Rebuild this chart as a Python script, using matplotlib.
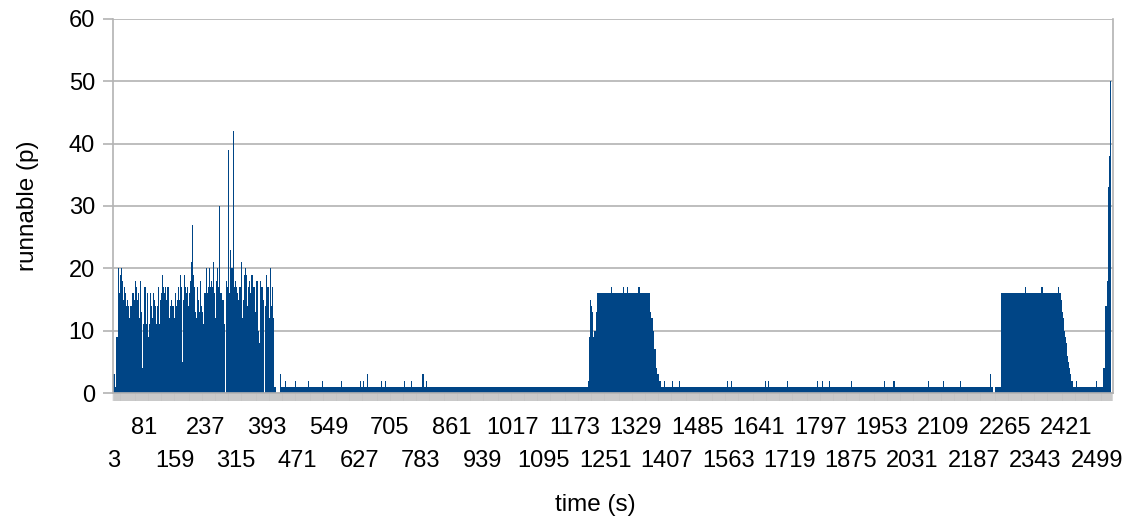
import numpy as np
import matplotlib
matplotlib.use("Agg")
import matplotlib.pyplot as plt

# runnable processes during the busy start (3 s .. 416 s), evenly spread
burst = [3, 3, 1, 9, 9, 20, 16, 19, 20, 18, 15, 17, 16, 14, 15, 14, 12, 14, 14, 16,
         16, 15, 18, 17, 15, 16, 12, 18, 13, 4, 11, 17, 17, 11, 16, 9, 11, 16, 14, 12,
         16, 15, 14, 11, 14, 17, 11, 15, 16, 19, 17, 16, 17, 15, 17,
         17, 12, 14, 15, 14, 14, 12, 16, 14, 15, 17, 15, 19, 17, 5, 15, 19, 17, 16, 17,
         14, 16, 18, 21, 27, 19, 17, 13, 12, 17, 15, 13, 18, 14, 13, 11, 16, 16, 20, 16,
         17, 20, 17, 18, 17, 21, 16, 12, 18, 20, 17, 30, 16, 16, 15, 15,
         11, 0, 18, 17, 39, 16, 23, 20, 20, 42, 17, 18, 17, 16, 15, 17, 17, 21, 12, 15,
         19, 20, 19, 14, 17, 18, 16, 19, 19, 17, 17, 13, 18, 18, 10, 8, 18, 17, 17, 15,
         0, 14, 19, 17, 17, 12, 20, 14, 17, 12, 1, 1]
burst_span = (2.5, 416.5)

# constant stretches: (from s, to s, runnable)
levels = [(416.5, 427, 0), (427, 1211, 1),
          (1233, 1365, 16),
          (1393, 2235, 1), (2235, 2240, 0), (2240, 2256, 1),
          (2256, 2408, 16), (2290, 2293, 15),
          (2438, 2514, 1)]

# ramps around the two plateaus and the final climb: (from s, to s, values)
ramps = [(1211, 1233, [9, 15, 14, 13, 9, 10, 10, 13, 16]),
         (1365, 1393, [13, 12, 12, 10, 7, 7, 4, 3, 3, 2, 2]),
         (2408, 2438, [15, 13, 12, 10, 9, 8, 6, 5, 4, 3, 2, 2]),
         (2514, 2535, [4, 4, 14, 14, 18, 33, 38, 50])]

# single short peaks: (time s, runnable)
peaks = [(428, 3), (441, 2), (465, 2), (498, 2), (533, 2), (581, 2), (630, 2),
         (637, 2), (647, 3), (683, 2), (693, 2), (741, 2), (759, 2), (789, 3),
         (797, 2), (1209, 2), (1268, 17), (1297, 17), (1309, 17), (1337, 17),
         (1402, 2), (1422, 2), (1441, 2), (1561, 2), (1571, 2), (1657, 2),
         (1665, 2), (1713, 2), (1789, 2), (1802, 2), (1820, 2), (1875, 2),
         (1959, 2), (1984, 2), (2071, 2), (2109, 2), (2152, 2), (2228, 3),
         (2318, 17), (2358, 17), (2362, 17), (2401, 17), (2448, 2), (2499, 2)]

t_first, t_last = 3, 2538
label_step = 78

blue = "#004586"
grey = "#b3b3b3"
plt.rcParams["font.family"] = ["Liberation Sans", "DejaVu Sans"]

fig = plt.figure(figsize=(11.28, 5.2), dpi=100)
ax = fig.add_axes([0.1002, 0.2442, 0.8861, 0.7193])

# no antialiasing: neighbouring bars butt together without light seams
bar_kw = dict(color=blue, align="edge", linewidth=0, antialiased=False)

edges = np.linspace(burst_span[0], burst_span[1], len(burst) + 1)
ax.bar(edges[:-1], burst, width=np.diff(edges), **bar_kw)

for a, b, v in levels:
    ax.bar(a, v, width=b - a, **bar_kw)

for a, b, vals in ramps:
    e = np.linspace(a, b, len(vals) + 1)
    ax.bar(e[:-1], vals, width=np.diff(e), **bar_kw)

pt, pv = zip(*peaks)
ax.bar(pt, pv, width=2.6, color=blue, linewidth=0, antialiased=False)

ax.set_xlim(t_first - 0.5, t_last + 0.5)
ax.set_ylim(0, 60)
ax.set_yticks(np.arange(0, 61, 10))
ax.yaxis.grid(True, color=grey, linewidth=1.2)
ax.set_axisbelow(True)

# labels alternate between two rows: odd ones on the upper row,
# even ones on a second axis further down
major = np.arange(t_first, 2500, label_step)
ax.set_xticks(major)
ax.set_xticklabels([str(t) if i % 2 else "" for i, t in enumerate(major)])
ax.set_xticks(np.arange(t_first, t_last + 1), minor=True)

lower = ax.secondary_xaxis("bottom")
lower.set_xticks(major[::2])
lower.set_xticklabels([str(t) for t in major[::2]])
lower.tick_params(axis="x", length=0, labelsize=17, pad=41)
lower.spines["bottom"].set_visible(False)

ax.tick_params(axis="x", which="both", length=6, width=0.3, color=grey,
               labelsize=17, pad=11)
ax.tick_params(axis="y", length=7, width=1.2, color=grey, labelsize=17, pad=6)
for s in ax.spines.values():
    s.set_color(grey)
    s.set_linewidth(1.2)
ax.spines["top"].set_visible(False)

ax.set_ylabel("runnable (p)", fontsize=17.5)
ax.yaxis.set_label_coords(-0.0745, 0.5)
ax.set_xlabel("time (s)", fontsize=17.5)
ax.xaxis.set_label_coords(0.483, -0.271)

fig.savefig("out.png", dpi=100)
